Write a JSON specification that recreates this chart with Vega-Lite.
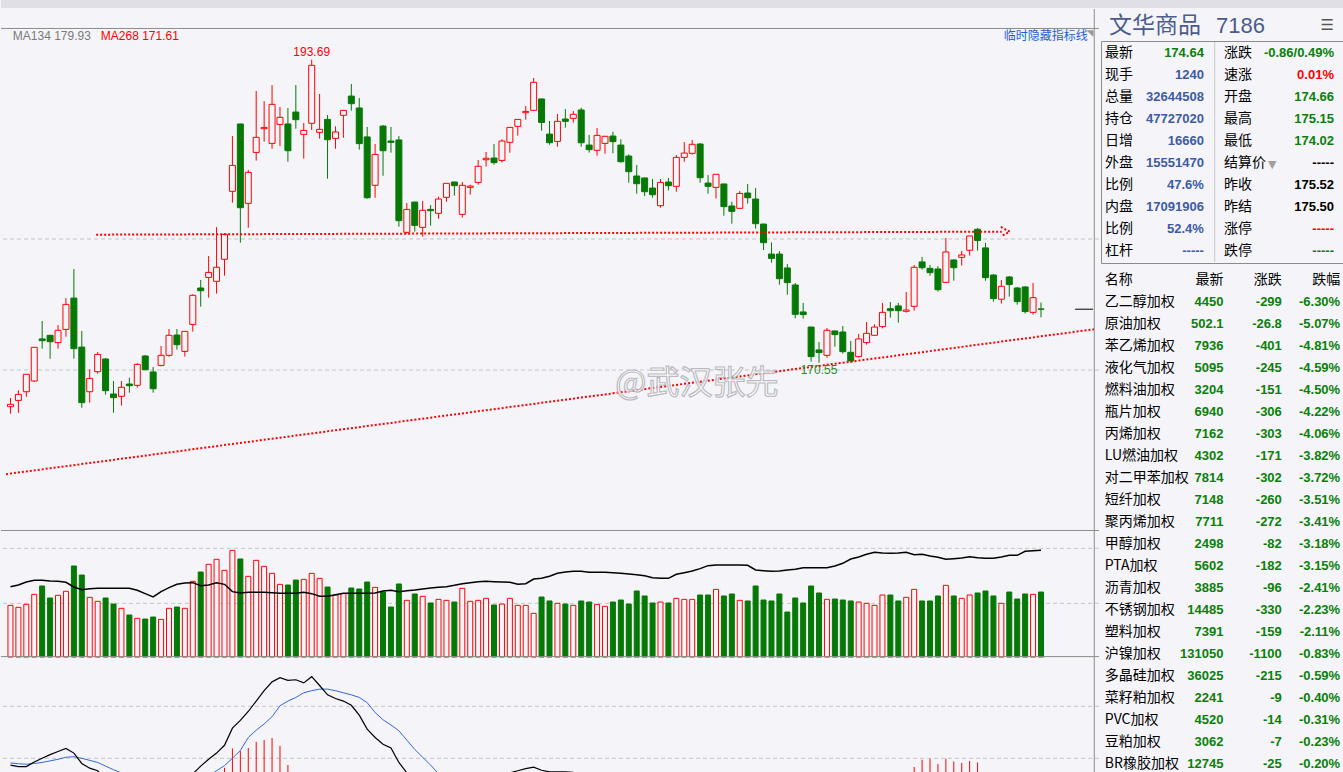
{
"$schema":"https://vega.github.io/schema/vega-lite/v6.json",
"background":"#f5f5f9",
"padding":0,
"spacing":0,
"config":{"view":{"stroke":null},"axis":{"disable":true},"legend":{"disable":true},"concat":{"spacing":0}},
"datasets":{
"k":[
{"i":1,"o":167.2,"h":167.86,"l":166.67,"c":167.38,"v":2594,"oi":3534,"dif":0.87,"dea":0.91,"m":-0.08},
{"i":2,"o":167.68,"h":168.45,"l":166.74,"c":168.14,"v":2495,"oi":3618,"dif":0.84,"dea":0.895,"m":-0.11},
{"i":3,"o":168.34,"h":169.7,"l":167.96,"c":169.67,"v":2648,"oi":3769,"dif":0.84,"dea":0.885,"m":-0.09},
{"i":4,"o":169.16,"h":171.75,"l":169.08,"c":171.73,"v":3148,"oi":3853,"dif":0.93,"dea":0.9,"m":0.06},
{"i":5,"o":172.37,"h":173.74,"l":171.63,"c":172.24,"v":3568,"oi":3853,"dif":1.0,"dea":0.92,"m":0.16},
{"i":6,"o":172.65,"h":172.67,"l":170.86,"c":172.16,"v":2965,"oi":3819,"dif":1.07,"dea":0.95,"m":0.24},
{"i":7,"o":172.09,"h":173.43,"l":171.63,"c":173.03,"v":3099,"oi":3802,"dif":1.13,"dea":0.98,"m":0.3},
{"i":8,"o":173.1,"h":175.49,"l":172.54,"c":175.01,"v":3301,"oi":3752,"dif":1.19,"dea":1.02,"m":0.34},
{"i":9,"o":175.49,"h":177.71,"l":170.86,"c":171.63,"v":4573,"oi":3518,"dif":1.1,"dea":1.03,"m":0.14},
{"i":10,"o":171.75,"h":172.98,"l":167.12,"c":167.51,"v":4120,"oi":3384,"dif":0.9,"dea":1.0,"m":-0.2},
{"i":11,"o":168.34,"h":170.05,"l":167.51,"c":169.36,"v":2998,"oi":3434,"dif":0.81,"dea":0.96,"m":-0.3},
{"i":12,"o":169.87,"h":171.37,"l":169.72,"c":171.19,"v":2798,"oi":3451,"dif":0.76,"dea":0.92,"m":-0.32},
{"i":13,"o":170.84,"h":170.91,"l":168.12,"c":168.42,"v":2965,"oi":3451,"dif":0.6,"dea":0.85,"m":-0.5},
{"i":14,"o":168.17,"h":169.16,"l":166.74,"c":167.89,"v":2662,"oi":3451,"dif":0.45,"dea":0.78,"m":-0.66},
{"i":15,"o":167.99,"h":169.16,"l":167.28,"c":168.68,"v":2446,"oi":3451,"dif":0.35,"dea":0.72,"m":-0.74},
{"i":16,"o":168.93,"h":169.41,"l":168.27,"c":168.8,"v":2110,"oi":3451,"dif":0.25,"dea":0.66,"m":-0.82},
{"i":17,"o":168.83,"h":170.53,"l":168.65,"c":170.43,"v":1944,"oi":3350,"dif":0.2,"dea":0.6,"m":-0.8},
{"i":18,"o":171.07,"h":171.14,"l":170.0,"c":170.02,"v":1908,"oi":3183,"dif":0.16,"dea":0.55,"m":-0.78},
{"i":19,"o":169.85,"h":170.23,"l":168.27,"c":168.57,"v":2009,"oi":3015,"dif":0.1,"dea":0.5,"m":-0.8},
{"i":20,"o":170.35,"h":171.83,"l":170.28,"c":171.12,"v":1892,"oi":3283,"dif":0.1,"dea":0.45,"m":-0.7},
{"i":21,"o":171.12,"h":173.13,"l":171.02,"c":172.65,"v":2446,"oi":3484,"dif":0.15,"dea":0.42,"m":-0.54},
{"i":22,"o":172.67,"h":173.13,"l":171.55,"c":171.93,"v":2512,"oi":3652,"dif":0.2,"dea":0.4,"m":-0.4},
{"i":23,"o":171.42,"h":172.97,"l":171.02,"c":172.95,"v":2446,"oi":3719,"dif":0.3,"dea":0.39,"m":-0.18},
{"i":24,"o":173.48,"h":175.78,"l":172.93,"c":175.7,"v":3803,"oi":3735,"dif":0.7,"dea":0.45,"m":0.5},
{"i":25,"o":176.26,"h":176.87,"l":174.83,"c":176.05,"v":4270,"oi":3585,"dif":0.85,"dea":0.55,"m":0.6},
{"i":26,"o":177.07,"h":178.7,"l":175.52,"c":177.45,"v":4657,"oi":3618,"dif":0.98,"dea":0.66,"m":0.64},
{"i":27,"o":176.77,"h":180.91,"l":175.83,"c":177.84,"v":4909,"oi":3735,"dif":1.1,"dea":0.76,"m":0.68},
{"i":28,"o":178.45,"h":180.43,"l":177.2,"c":180.35,"v":4354,"oi":3652,"dif":1.25,"dea":0.86,"m":0.82},
{"i":29,"o":183.64,"h":187.86,"l":182.77,"c":185.62,"v":5359,"oi":3283,"dif":1.58,"dea":1.0,"m":1.19},
{"i":30,"o":188.78,"h":188.8,"l":179.72,"c":182.39,"v":4925,"oi":3216,"dif":1.73,"dea":1.15,"m":1.14},
{"i":31,"o":182.72,"h":185.27,"l":180.86,"c":185.09,"v":4054,"oi":3250,"dif":1.9,"dea":1.4,"m":1.2},
{"i":32,"o":186.61,"h":191.3,"l":185.98,"c":187.76,"v":4857,"oi":3250,"dif":2.1,"dea":1.54,"m":1.32},
{"i":33,"o":188.42,"h":190.53,"l":187.43,"c":188.52,"v":4556,"oi":3250,"dif":2.3,"dea":1.66,"m":1.35},
{"i":34,"o":187.3,"h":191.75,"l":186.89,"c":190.28,"v":4204,"oi":3233,"dif":2.47,"dea":1.8,"m":1.39},
{"i":35,"o":188.75,"h":190.08,"l":187.1,"c":189.29,"v":3650,"oi":3199,"dif":2.55,"dea":2.01,"m":1.24},
{"i":36,"o":188.78,"h":190.0,"l":185.9,"c":186.74,"v":3617,"oi":3199,"dif":2.5,"dea":2.1,"m":0.87},
{"i":37,"o":189.69,"h":191.75,"l":188.42,"c":189.11,"v":3868,"oi":3199,"dif":2.51,"dea":2.17,"m":0.68},
{"i":38,"o":187.99,"h":188.85,"l":186.13,"c":188.29,"v":3901,"oi":3250,"dif":2.45,"dea":2.26,"m":0.38},
{"i":39,"o":188.83,"h":193.69,"l":188.32,"c":193.26,"v":4204,"oi":3183,"dif":2.57,"dea":2.3,"m":0.54},
{"i":40,"o":188.14,"h":191.07,"l":187.66,"c":188.37,"v":3953,"oi":3049,"dif":2.4,"dea":2.33,"m":0.14},
{"i":41,"o":189.13,"h":189.46,"l":184.6,"c":187.58,"v":3516,"oi":3049,"dif":2.22,"dea":2.33,"m":-0.22},
{"i":42,"o":187.68,"h":188.6,"l":186.89,"c":188.17,"v":3115,"oi":3132,"dif":2.15,"dea":2.3,"m":-0.3},
{"i":43,"o":189.44,"h":189.84,"l":187.73,"c":189.82,"v":3183,"oi":3199,"dif":2.1,"dea":2.26,"m":-0.32},
{"i":44,"o":190.91,"h":191.83,"l":189.8,"c":190.33,"v":3467,"oi":3199,"dif":2.02,"dea":2.22,"m":-0.4},
{"i":45,"o":190.0,"h":190.76,"l":186.82,"c":187.28,"v":3418,"oi":3199,"dif":1.83,"dea":2.17,"m":-0.68},
{"i":46,"o":187.79,"h":188.55,"l":183.08,"c":183.15,"v":3767,"oi":3199,"dif":1.56,"dea":2.07,"m":-1.02},
{"i":47,"o":184.1,"h":187.25,"l":183.15,"c":186.46,"v":3500,"oi":3216,"dif":1.4,"dea":1.88,"m":-0.96},
{"i":48,"o":188.62,"h":188.7,"l":184.83,"c":186.74,"v":3265,"oi":3317,"dif":1.27,"dea":1.74,"m":-0.94},
{"i":49,"o":187.48,"h":188.55,"l":186.59,"c":187.38,"v":2512,"oi":3350,"dif":1.2,"dea":1.64,"m":-0.88},
{"i":50,"o":187.56,"h":187.86,"l":180.94,"c":181.4,"v":3669,"oi":3283,"dif":0.92,"dea":1.53,"m":-1.22},
{"i":51,"o":180.51,"h":182.75,"l":180.41,"c":182.26,"v":2847,"oi":3333,"dif":0.72,"dea":1.35,"m":-1.26},
{"i":52,"o":182.82,"h":182.84,"l":180.56,"c":181.04,"v":3167,"oi":3367,"dif":0.58,"dea":1.17,"m":-1.18},
{"i":53,"o":180.89,"h":182.9,"l":180.18,"c":182.19,"v":3049,"oi":3417,"dif":0.5,"dea":1.02,"m":-1.04},
{"i":54,"o":182.26,"h":182.59,"l":181.02,"c":182.16,"v":2714,"oi":3467,"dif":0.45,"dea":0.87,"m":-0.84},
{"i":55,"o":181.96,"h":183.23,"l":181.55,"c":183.05,"v":2897,"oi":3501,"dif":0.45,"dea":0.7,"m":-0.5},
{"i":56,"o":183.18,"h":184.27,"l":182.85,"c":184.25,"v":2847,"oi":3534,"dif":0.48,"dea":0.62,"m":-0.28},
{"i":57,"o":184.35,"h":184.37,"l":183.31,"c":184.07,"v":2763,"oi":3601,"dif":0.5,"dea":0.58,"m":-0.16},
{"i":58,"o":181.88,"h":184.35,"l":181.63,"c":184.1,"v":3451,"oi":3685,"dif":0.52,"dea":0.56,"m":-0.08},
{"i":59,"o":183.94,"h":184.15,"l":183.38,"c":184.04,"v":2798,"oi":3735,"dif":0.55,"dea":0.55,"m":0.0},
{"i":60,"o":184.32,"h":186.03,"l":184.15,"c":185.55,"v":2847,"oi":3786,"dif":0.6,"dea":0.56,"m":0.08},
{"i":61,"o":186.05,"h":186.64,"l":185.52,"c":186.16,"v":2948,"oi":3802,"dif":0.64,"dea":0.57,"m":0.14},
{"i":62,"o":186.18,"h":187.25,"l":185.67,"c":185.83,"v":2613,"oi":3786,"dif":0.66,"dea":0.59,"m":0.14},
{"i":63,"o":186.0,"h":187.61,"l":185.83,"c":187.48,"v":2662,"oi":3769,"dif":0.7,"dea":0.61,"m":0.18},
{"i":64,"o":187.38,"h":188.54,"l":186.59,"c":188.52,"v":2948,"oi":3752,"dif":0.72,"dea":0.63,"m":0.18},
{"i":65,"o":188.6,"h":189.15,"l":187.89,"c":189.13,"v":2596,"oi":3652,"dif":0.76,"dea":0.65,"m":0.22},
{"i":66,"o":189.64,"h":190.15,"l":189.11,"c":189.74,"v":2596,"oi":3685,"dif":0.8,"dea":0.67,"m":0.26},
{"i":67,"o":189.82,"h":192.29,"l":189.8,"c":191.96,"v":2195,"oi":3920,"dif":0.83,"dea":0.69,"m":0.28},
{"i":68,"o":190.69,"h":190.71,"l":188.27,"c":188.9,"v":3014,"oi":3953,"dif":0.77,"dea":0.7,"m":0.14},
{"i":69,"o":188.01,"h":189.01,"l":187.2,"c":187.35,"v":2815,"oi":4054,"dif":0.74,"dea":0.7,"m":0.08},
{"i":70,"o":187.45,"h":189.54,"l":187.05,"c":188.98,"v":2697,"oi":4204,"dif":0.74,"dea":0.7,"m":0.08},
{"i":71,"o":189.16,"h":189.92,"l":188.5,"c":188.98,"v":2662,"oi":4271,"dif":0.74,"dea":0.7,"m":0.08},
{"i":72,"o":189.21,"h":189.77,"l":188.88,"c":189.52,"v":2596,"oi":4305,"dif":0.73,"dea":0.7,"m":0.06},
{"i":73,"o":189.85,"h":190.02,"l":187.05,"c":187.35,"v":2815,"oi":4305,"dif":0.62,"dea":0.69,"m":-0.14},
{"i":74,"o":187.17,"h":187.94,"l":186.59,"c":186.82,"v":2763,"oi":4255,"dif":0.5,"dea":0.66,"m":-0.32},
{"i":75,"o":186.77,"h":188.47,"l":186.36,"c":187.91,"v":2645,"oi":4255,"dif":0.42,"dea":0.63,"m":-0.42},
{"i":76,"o":187.3,"h":187.86,"l":186.51,"c":187.84,"v":2547,"oi":4255,"dif":0.36,"dea":0.58,"m":-0.44},
{"i":77,"o":187.86,"h":188.19,"l":186.54,"c":187.43,"v":2763,"oi":4238,"dif":0.3,"dea":0.53,"m":-0.46},
{"i":78,"o":187.17,"h":187.61,"l":185.83,"c":185.9,"v":2864,"oi":4204,"dif":0.2,"dea":0.47,"m":-0.54},
{"i":79,"o":186.33,"h":186.46,"l":184.3,"c":185.14,"v":2662,"oi":4171,"dif":0.05,"dea":0.39,"m":-0.68},
{"i":80,"o":184.81,"h":185.65,"l":183.46,"c":184.22,"v":3317,"oi":4137,"dif":-0.15,"dea":0.28,"m":-0.86},
{"i":81,"o":184.66,"h":184.68,"l":183.28,"c":183.61,"v":3066,"oi":4087,"dif":-0.35,"dea":0.15,"m":-1.0},
{"i":82,"o":183.89,"h":184.58,"l":183.15,"c":183.38,"v":2714,"oi":3987,"dif":-0.5,"dea":0.02,"m":-1.04},
{"i":83,"o":182.54,"h":184.58,"l":182.39,"c":184.32,"v":2763,"oi":3953,"dif":-0.55,"dea":-0.1,"m":-0.9},
{"i":84,"o":184.35,"h":184.66,"l":183.71,"c":184.07,"v":2714,"oi":3953,"dif":-0.6,"dea":-0.2,"m":-0.8},
{"i":85,"o":184.02,"h":186.41,"l":183.61,"c":186.23,"v":2948,"oi":4154,"dif":-0.5,"dea":-0.26,"m":-0.48},
{"i":86,"o":186.23,"h":187.4,"l":185.9,"c":186.56,"v":2897,"oi":4238,"dif":-0.4,"dea":-0.29,"m":-0.22},
{"i":87,"o":186.54,"h":187.56,"l":186.44,"c":187.23,"v":2897,"oi":4322,"dif":-0.3,"dea":-0.29,"m":-0.02},
{"i":88,"o":187.25,"h":187.33,"l":184.3,"c":184.68,"v":3115,"oi":4439,"dif":-0.4,"dea":-0.31,"m":-0.18},
{"i":89,"o":184.27,"h":184.88,"l":183.46,"c":184.02,"v":3115,"oi":4590,"dif":-0.5,"dea":-0.35,"m":-0.3},
{"i":90,"o":183.94,"h":184.96,"l":183.08,"c":184.94,"v":3399,"oi":4623,"dif":-0.55,"dea":-0.39,"m":-0.32},
{"i":91,"o":184.2,"h":184.22,"l":181.78,"c":182.47,"v":3066,"oi":4623,"dif":-0.7,"dea":-0.45,"m":-0.5},
{"i":92,"o":182.52,"h":182.85,"l":181.17,"c":182.11,"v":3167,"oi":4623,"dif":-0.85,"dea":-0.53,"m":-0.64},
{"i":93,"o":182.34,"h":183.66,"l":182.32,"c":183.48,"v":2847,"oi":4623,"dif":-0.85,"dea":-0.6,"m":-0.5},
{"i":94,"o":183.51,"h":184.2,"l":182.7,"c":183.15,"v":2815,"oi":4606,"dif":-0.9,"dea":-0.66,"m":-0.48},
{"i":95,"o":183.05,"h":183.89,"l":180.79,"c":181.17,"v":3568,"oi":4372,"dif":-1.05,"dea":-0.74,"m":-0.62},
{"i":96,"o":181.14,"h":181.16,"l":179.16,"c":179.72,"v":2864,"oi":4338,"dif":-1.25,"dea":-0.84,"m":-0.82},
{"i":97,"o":178.85,"h":179.74,"l":178.19,"c":178.52,"v":2815,"oi":4305,"dif":-1.5,"dea":-0.97,"m":-1.06},
{"i":98,"o":178.85,"h":179.08,"l":176.51,"c":176.97,"v":3167,"oi":4322,"dif":-1.75,"dea":-1.12,"m":-1.26},
{"i":99,"o":177.79,"h":178.09,"l":175.75,"c":176.67,"v":2260,"oi":4372,"dif":-2.0,"dea":-1.3,"m":-1.4},
{"i":100,"o":176.49,"h":176.64,"l":173.94,"c":174.25,"v":2965,"oi":4405,"dif":-2.3,"dea":-1.5,"m":-1.6},
{"i":101,"o":174.43,"h":175.12,"l":173.92,"c":174.23,"v":2714,"oi":4489,"dif":-2.5,"dea":-1.7,"m":-1.6},
{"i":102,"o":173.28,"h":173.3,"l":170.64,"c":171.02,"v":3568,"oi":4489,"dif":-2.8,"dea":-1.92,"m":-1.76},
{"i":103,"o":171.53,"h":172.14,"l":170.55,"c":171.33,"v":3216,"oi":4489,"dif":-3.0,"dea":-2.14,"m":-1.72},
{"i":104,"o":171.12,"h":173.21,"l":170.94,"c":173.03,"v":2897,"oi":4489,"dif":-3.0,"dea":-2.31,"m":-1.38},
{"i":105,"o":172.98,"h":173.0,"l":171.78,"c":172.7,"v":2913,"oi":4573,"dif":-3.0,"dea":-2.45,"m":-1.1},
{"i":106,"o":172.9,"h":173.36,"l":171.25,"c":171.4,"v":2864,"oi":4707,"dif":-3.05,"dea":-2.57,"m":-0.96},
{"i":107,"o":171.35,"h":172.22,"l":170.56,"c":170.69,"v":2815,"oi":4925,"dif":-3.1,"dea":-2.68,"m":-0.84},
{"i":108,"o":171.02,"h":172.75,"l":170.94,"c":172.37,"v":2763,"oi":5025,"dif":-3.0,"dea":-2.74,"m":-0.52},
{"i":109,"o":172.09,"h":173.67,"l":171.94,"c":172.8,"v":2697,"oi":5159,"dif":-2.85,"dea":-2.76,"m":-0.18},
{"i":110,"o":172.65,"h":173.49,"l":172.63,"c":173.28,"v":2596,"oi":5260,"dif":-2.7,"dea":-2.75,"m":0.1},
{"i":111,"o":173.31,"h":175.12,"l":173.18,"c":174.4,"v":3115,"oi":5226,"dif":-2.5,"dea":-2.7,"m":0.4},
{"i":112,"o":174.68,"h":175.19,"l":174.0,"c":174.53,"v":3115,"oi":5209,"dif":-2.35,"dea":-2.63,"m":0.56},
{"i":113,"o":174.89,"h":175.12,"l":173.62,"c":174.53,"v":2815,"oi":5226,"dif":-2.25,"dea":-2.56,"m":0.62},
{"i":114,"o":174.48,"h":175.96,"l":174.38,"c":174.58,"v":2998,"oi":5260,"dif":-2.14,"dea":-2.47,"m":0.66},
{"i":115,"o":174.86,"h":178.02,"l":174.53,"c":177.84,"v":3399,"oi":5142,"dif":-1.84,"dea":-2.25,"m":0.83},
{"i":116,"o":178.25,"h":178.63,"l":177.66,"c":177.81,"v":2815,"oi":5159,"dif":-1.55,"dea":-2.03,"m":0.97},
{"i":117,"o":177.76,"h":178.02,"l":177.2,"c":177.43,"v":2815,"oi":5075,"dif":-1.39,"dea":-1.88,"m":0.99},
{"i":118,"o":177.71,"h":177.92,"l":175.98,"c":176.13,"v":3066,"oi":5008,"dif":-1.3,"dea":-1.74,"m":0.89},
{"i":119,"o":176.69,"h":180.08,"l":176.67,"c":179.01,"v":3601,"oi":4908,"dif":-1.06,"dea":-1.55,"m":0.99},
{"i":120,"o":178.4,"h":178.42,"l":176.82,"c":177.81,"v":3066,"oi":4941,"dif":-0.95,"dea":-1.42,"m":0.94},
{"i":121,"o":178.6,"h":179.09,"l":177.97,"c":178.78,"v":2948,"oi":4975,"dif":-0.8,"dea":-1.26,"m":0.91},
{"i":122,"o":179.14,"h":180.25,"l":178.73,"c":180.23,"v":3115,"oi":5042,"dif":-0.62,"dea":-1.1,"m":0.95},
{"i":123,"o":180.74,"h":180.84,"l":179.11,"c":179.88,"v":3216,"oi":4992,"dif":-0.52,"dea":-0.98,"m":0.92},
{"i":124,"o":179.32,"h":179.7,"l":176.82,"c":177.05,"v":3317,"oi":4958,"dif":-0.52,"dea":-0.88,"m":0.7},
{"i":125,"o":177.25,"h":177.31,"l":175.22,"c":175.45,"v":3066,"oi":4958,"dif":-0.6,"dea":-0.83,"m":0.46},
{"i":126,"o":175.4,"h":176.87,"l":175.07,"c":176.39,"v":2697,"oi":5025,"dif":-0.62,"dea":-0.78,"m":0.32},
{"i":127,"o":177.1,"h":177.18,"l":175.6,"c":176.52,"v":3265,"oi":5109,"dif":-0.62,"dea":-0.75,"m":0.26},
{"i":128,"o":176.26,"h":176.34,"l":174.99,"c":175.22,"v":2913,"oi":5109,"dif":-0.68,"dea":-0.73,"m":0.1},
{"i":129,"o":176.34,"h":176.39,"l":174.3,"c":174.46,"v":3167,"oi":5310,"dif":-0.78,"dea":-0.74,"m":-0.08},
{"i":130,"o":174.4,"h":176.64,"l":174.23,"c":175.52,"v":3148,"oi":5343,"dif":-0.8,"dea":-0.75,"m":-0.1},
{"i":131,"o":174.66,"h":175.15,"l":174.02,"c":174.64,"v":3264,"oi":5360,"dif":-0.85,"dea":-0.77,"m":-0.16}
],
"info":[
{"行":1,"项目":"最新","数值":"174.64","色1":"跌","项目2":"涨跌","数值2":"-0.86/0.49%","色2":"跌"},
{"行":2,"项目":"现手","数值":"1240","色1":"量","项目2":"速涨","数值2":"0.01%","色2":"涨"},
{"行":3,"项目":"总量","数值":"32644508","色1":"量","项目2":"开盘","数值2":"174.66","色2":"跌"},
{"行":4,"项目":"持仓","数值":"47727020","色1":"量","项目2":"最高","数值2":"175.15","色2":"跌"},
{"行":5,"项目":"日增","数值":"16660","色1":"量","项目2":"最低","数值2":"174.02","色2":"跌"},
{"行":6,"项目":"外盘","数值":"15551470","色1":"量","项目2":"结算价","数值2":"-----","色2":"平"},
{"行":7,"项目":"比例","数值":"47.6%","色1":"量","项目2":"昨收","数值2":"175.52","色2":"平"},
{"行":8,"项目":"内盘","数值":"17091906","色1":"量","项目2":"昨结","数值2":"175.50","色2":"平"},
{"行":9,"项目":"比例","数值":"52.4%","色1":"量","项目2":"涨停","数值2":"-----","色2":"涨"},
{"行":10,"项目":"杠杆","数值":"-----","色1":"量","项目2":"跌停","数值2":"-----","色2":"跌"}
],
"tbl":[
{"名称":"乙二醇加权","最新":4450,"涨跌":-299,"跌幅":"-6.30%"},
{"名称":"原油加权","最新":502.1,"涨跌":-26.8,"跌幅":"-5.07%"},
{"名称":"苯乙烯加权","最新":7936,"涨跌":-401,"跌幅":"-4.81%"},
{"名称":"液化气加权","最新":5095,"涨跌":-245,"跌幅":"-4.59%"},
{"名称":"燃料油加权","最新":3204,"涨跌":-151,"跌幅":"-4.50%"},
{"名称":"瓶片加权","最新":6940,"涨跌":-306,"跌幅":"-4.22%"},
{"名称":"丙烯加权","最新":7162,"涨跌":-303,"跌幅":"-4.06%"},
{"名称":"LU燃油加权","最新":4302,"涨跌":-171,"跌幅":"-3.82%"},
{"名称":"对二甲苯加权","最新":7814,"涨跌":-302,"跌幅":"-3.72%"},
{"名称":"短纤加权","最新":7148,"涨跌":-260,"跌幅":"-3.51%"},
{"名称":"聚丙烯加权","最新":7711,"涨跌":-272,"跌幅":"-3.41%"},
{"名称":"甲醇加权","最新":2498,"涨跌":-82,"跌幅":"-3.18%"},
{"名称":"PTA加权","最新":5602,"涨跌":-182,"跌幅":"-3.15%"},
{"名称":"沥青加权","最新":3885,"涨跌":-96,"跌幅":"-2.41%"},
{"名称":"不锈钢加权","最新":14485,"涨跌":-330,"跌幅":"-2.23%"},
{"名称":"塑料加权","最新":7391,"涨跌":-159,"跌幅":"-2.11%"},
{"名称":"沪镍加权","最新":131050,"涨跌":-1100,"跌幅":"-0.83%"},
{"名称":"多晶硅加权","最新":36025,"涨跌":-215,"跌幅":"-0.59%"},
{"名称":"菜籽粕加权","最新":2241,"涨跌":-9,"跌幅":"-0.40%"},
{"名称":"PVC加权","最新":4520,"涨跌":-14,"跌幅":"-0.31%"},
{"名称":"豆粕加权","最新":3062,"涨跌":-7,"跌幅":"-0.23%"},
{"名称":"BR橡胶加权","最新":12745,"涨跌":-25,"跌幅":"-0.20%"}
]
},
"vconcat":[
{"width":1343,"height":8,"view":{"fill":"#dfdfe5","stroke":null},"data":{"values":[{"t":""}]},"mark":{"type":"text","fontSize":1},"encoding":{"text":{"field":"t","type":"nominal"}}},
{"hconcat":[
{"vconcat":[
{"width":1098,"height":522,"data":{"name":"k"},"layer":[
{"data":{"values":[{"p":170},{"p":180}]},"mark":{"type":"rule","stroke":"#c4c4c8","strokeDash":[4,3],"strokeWidth":1},"encoding":{"y":{"field":"p","type":"quantitative","scale":{"domain":[157.71,197.557],"nice":false,"zero":false}}}},
{"data":{"values":[{"p":196.07},{"p":157.75}]},"mark":{"type":"rule","stroke":"#8c8c8c","strokeWidth":1},"encoding":{"y":{"field":"p","type":"quantitative","scale":{"domain":[157.71,197.557],"nice":false,"zero":false}}}},
{"data":{"values":[{"x":137.72}]},"mark":{"type":"rule","stroke":"#8c8c8c","strokeWidth":1},"encoding":{"x":{"field":"x","type":"quantitative","scale":{"domain":[0.4375,137.6875],"nice":false,"zero":false}}}},
{"mark":{"type":"rule","strokeWidth":1},"encoding":{"x":{"field":"i","type":"quantitative","scale":{"domain":[0.4375,137.6875],"nice":false,"zero":false}},"y":{"field":"l","type":"quantitative","scale":{"domain":[157.71,197.557],"nice":false,"zero":false}},"y2":{"field":"h"},"color":{"condition":{"test":"datum.c >= datum.o","value":"#ff0000"},"value":"#067806"}}},
{"mark":{"type":"bar","width":6,"strokeWidth":1,"orient":"vertical"},"encoding":{"x":{"field":"i","type":"quantitative","scale":{"domain":[0.4375,137.6875],"nice":false,"zero":false}},"y":{"field":"o","type":"quantitative","scale":{"domain":[157.71,197.557],"nice":false,"zero":false}},"y2":{"field":"c"},"fill":{"condition":{"test":"datum.c >= datum.o","value":"#f5f5f9"},"value":"#067806"},"stroke":{"condition":{"test":"datum.c >= datum.o","value":"#ff0000"},"value":"#067806"}}},
{"data":{"values":[{"i":11.81,"p":180.33},{"i":126.06,"p":180.56}]},"mark":{"type":"line","stroke":"#ff0000","strokeWidth":2,"strokeDash":[2,2],"clip":true},"encoding":{"x":{"field":"i","type":"quantitative","scale":{"domain":[0.4375,137.6875],"nice":false,"zero":false}},"y":{"field":"p","type":"quantitative","scale":{"domain":[157.71,197.557],"nice":false,"zero":false}}}},
{"data":{"values":[{"k":1,"i":125.94,"p":180.92},{"k":2,"i":127.06,"p":180.56},{"k":3,"i":125.94,"p":180.2}]},"mark":{"type":"line","stroke":"#ff0000","strokeWidth":2,"strokeDash":[2,2],"clip":true},"encoding":{"x":{"field":"i","type":"quantitative","scale":{"domain":[0.4375,137.6875],"nice":false,"zero":false}},"y":{"field":"p","type":"quantitative","scale":{"domain":[157.71,197.557],"nice":false,"zero":false}},"order":{"field":"k","type":"quantitative"}}},
{"data":{"values":[{"i":0.4375,"p":162.05},{"i":137.6875,"p":173.11}]},"mark":{"type":"line","stroke":"#ff0000","strokeWidth":2,"strokeDash":[2,2],"clip":true},"encoding":{"x":{"field":"i","type":"quantitative","scale":{"domain":[0.4375,137.6875],"nice":false,"zero":false}},"y":{"field":"p","type":"quantitative","scale":{"domain":[157.71,197.557],"nice":false,"zero":false}}}},
{"data":{"values":[{"i":135.31,"p":174.64},{"i":137.56,"p":174.64}]},"mark":{"type":"line","stroke":"#000000","strokeWidth":1},"encoding":{"x":{"field":"i","type":"quantitative","scale":{"domain":[0.4375,137.6875],"nice":false,"zero":false}},"y":{"field":"p","type":"quantitative","scale":{"domain":[157.71,197.557],"nice":false,"zero":false}}}},
{"transform":[{"filter":"datum.i == 39"}],"mark":{"type":"text","color":"#ff0000","fontSize":12,"font":"Liberation Sans","baseline":"bottom","dy":-1},"encoding":{"x":{"field":"i","type":"quantitative","scale":{"domain":[0.4375,137.6875],"nice":false,"zero":false}},"y":{"field":"h","type":"quantitative","scale":{"domain":[157.71,197.557],"nice":false,"zero":false}},"text":{"field":"h","type":"quantitative","format":".2f"}}},
{"transform":[{"filter":"datum.i == 103"}],"mark":{"type":"text","color":"#2a8a2a","fontSize":12,"font":"Liberation Sans","baseline":"top","dy":2},"encoding":{"x":{"field":"i","type":"quantitative","scale":{"domain":[0.4375,137.6875],"nice":false,"zero":false}},"y":{"field":"l","type":"quantitative","scale":{"domain":[157.71,197.557],"nice":false,"zero":false}},"text":{"field":"l","type":"quantitative","format":".2f"}}},
{"data":{"values":[{"t":"MA134 179.93"}]},"mark":{"type":"text","align":"left","baseline":"middle","fontSize":12,"font":"Liberation Sans","color":"#7a7a7a"},"encoding":{"x":{"datum":1.3,"type":"quantitative","scale":{"domain":[0.4375,137.6875],"nice":false,"zero":false}},"y":{"datum":195.5,"type":"quantitative","scale":{"domain":[157.71,197.557],"nice":false,"zero":false}},"text":{"field":"t","type":"nominal"}}},
{"data":{"values":[{"t":"MA268 171.61"}]},"mark":{"type":"text","align":"left","baseline":"middle","fontSize":12,"font":"Liberation Sans","color":"#ff0000"},"encoding":{"x":{"datum":12.4,"type":"quantitative","scale":{"domain":[0.4375,137.6875],"nice":false,"zero":false}},"y":{"datum":195.5,"type":"quantitative","scale":{"domain":[157.71,197.557],"nice":false,"zero":false}},"text":{"field":"t","type":"nominal"}}},
{"data":{"values":[{"t":"临时隐藏指标线"}]},"mark":{"type":"text","align":"right","baseline":"middle","fontSize":12,"font":"Noto Sans CJK SC","color":"#1f5fd0"},"encoding":{"x":{"datum":136.9,"type":"quantitative","scale":{"domain":[0.4375,137.6875],"nice":false,"zero":false}},"y":{"datum":195.5,"type":"quantitative","scale":{"domain":[157.71,197.557],"nice":false,"zero":false}},"text":{"field":"t","type":"nominal"}}},
{"data":{"values":[{"t":"◥"}]},"mark":{"type":"text","align":"right","baseline":"top","fontSize":9,"font":"DejaVu Sans","color":"#999999"},"encoding":{"x":{"datum":137.6,"type":"quantitative","scale":{"domain":[0.4375,137.6875],"nice":false,"zero":false}},"y":{"datum":196.05,"type":"quantitative","scale":{"domain":[157.71,197.557],"nice":false,"zero":false}},"text":{"field":"t","type":"nominal"}}},
{"data":{"values":[{"t":"@武汉张先"}]},"mark":{"type":"text","align":"left","baseline":"middle","fontSize":33,"font":"Noto Sans CJK SC","fill":"#ffffff","stroke":"#b5b5bb","strokeWidth":1.2,"opacity":0.9},"encoding":{"x":{"datum":77.3,"type":"quantitative","scale":{"domain":[0.4375,137.6875],"nice":false,"zero":false}},"y":{"datum":168.93,"type":"quantitative","scale":{"domain":[157.71,197.557],"nice":false,"zero":false}},"text":{"field":"t","type":"nominal"}}}
]},
{"width":1098,"height":126,"data":{"name":"k"},"layer":[
{"data":{"values":[{"q":2696},{"q":5460}]},"mark":{"type":"rule","stroke":"#c4c4c8","strokeDash":[4,3],"strokeWidth":1},"encoding":{"y":{"field":"q","type":"quantitative","scale":{"domain":[0.01,6331],"nice":false,"zero":false}}}},
{"mark":{"type":"bar","width":5,"strokeWidth":1,"orient":"vertical"},"encoding":{"x":{"field":"i","type":"quantitative","scale":{"domain":[0.4375,137.6875],"nice":false,"zero":false}},"y":{"field":"v","type":"quantitative","stack":null,"scale":{"domain":[0.01,6331],"nice":false,"zero":false}},"fill":{"condition":{"test":"datum.c >= datum.o","value":"#f5f5f9"},"value":"#067806"},"stroke":{"condition":{"test":"datum.c >= datum.o","value":"#ff0000"},"value":"#067806"}}},
{"mark":{"type":"line","stroke":"#000000","strokeWidth":1.5},"encoding":{"x":{"field":"i","type":"quantitative","scale":{"domain":[0.4375,137.6875],"nice":false,"zero":false}},"y":{"field":"oi","type":"quantitative","scale":{"domain":[0.01,6331],"nice":false,"zero":false}}}},
{"data":{"values":[{"q":20}]},"mark":{"type":"rule","stroke":"#8c8c8c","strokeWidth":1},"encoding":{"y":{"field":"q","type":"quantitative","scale":{"domain":[0.01,6331],"nice":false,"zero":false}}}},
{"data":{"values":[{"x":137.72}]},"mark":{"type":"rule","stroke":"#8c8c8c","strokeWidth":1},"encoding":{"x":{"field":"x","type":"quantitative","scale":{"domain":[0.4375,137.6875],"nice":false,"zero":false}}}}
]},
{"width":1098,"height":116,"data":{"name":"k"},"layer":[
{"data":{"values":[{"q":1},{"q":2}]},"mark":{"type":"rule","stroke":"#c4c4c8","strokeDash":[4,3],"strokeWidth":1},"encoding":{"y":{"field":"q","type":"quantitative","scale":{"domain":[0.717,2.948],"nice":false,"zero":false}}}},
{"mark":{"type":"bar","width":1,"orient":"vertical","clip":true},"encoding":{"x":{"field":"i","type":"quantitative","scale":{"domain":[0.4375,137.6875],"nice":false,"zero":false}},"y":{"field":"m","type":"quantitative","stack":null,"scale":{"domain":[0.717,2.948],"nice":false,"zero":false}},"color":{"condition":{"test":"datum.m > 0","value":"#ff0000"},"value":"#067806"}}},
{"mark":{"type":"line","stroke":"#3366dd","strokeWidth":1,"clip":true},"encoding":{"x":{"field":"i","type":"quantitative","scale":{"domain":[0.4375,137.6875],"nice":false,"zero":false}},"y":{"field":"dea","type":"quantitative","scale":{"domain":[0.717,2.948],"nice":false,"zero":false}}}},
{"mark":{"type":"line","stroke":"#000000","strokeWidth":1.2,"clip":true},"encoding":{"x":{"field":"i","type":"quantitative","scale":{"domain":[0.4375,137.6875],"nice":false,"zero":false}},"y":{"field":"dif","type":"quantitative","scale":{"domain":[0.717,2.948],"nice":false,"zero":false}}}},
{"data":{"values":[{"x":137.72}]},"mark":{"type":"rule","stroke":"#8c8c8c","strokeWidth":1},"encoding":{"x":{"field":"x","type":"quantitative","scale":{"domain":[0.4375,137.6875],"nice":false,"zero":false}}}}
]}
],"spacing":0,"bounds":"flush"},
{"vconcat":[
{"width":245,"height":32,"data":{"values":[{"名称":"文华商品","代码":"7186","图标":"☰"}]},"layer":[
{"transform":[{"fold":["名称"],"as":["列","文"]}],"mark":{"type":"text","align":"left","baseline":"middle","fontSize":23,"font":"Noto Sans CJK SC","color":"#4b5b8c","dy":1},"encoding":{"x":{"field":"列","type":"nominal","bandPosition":0.098,"scale":{"type":"band","domain":["名称","代码","图标"],"paddingInner":0,"paddingOuter":0}},"text":{"field":"文","type":"nominal"}}},
{"transform":[{"fold":["代码"],"as":["列","文"]}],"mark":{"type":"text","align":"left","baseline":"middle","fontSize":22,"font":"Liberation Sans","color":"#4b5b8c","dy":1},"encoding":{"x":{"field":"列","type":"nominal","bandPosition":0.408,"scale":{"type":"band","domain":["名称","代码","图标"],"paddingInner":0,"paddingOuter":0}},"text":{"field":"文","type":"nominal"}}},
{"transform":[{"fold":["图标"],"as":["列","文"]}],"mark":{"type":"text","align":"right","baseline":"middle","fontSize":15,"font":"DejaVu Sans","color":"#555555"},"encoding":{"x":{"field":"列","type":"nominal","bandPosition":0.853,"scale":{"type":"band","domain":["名称","代码","图标"],"paddingInner":0,"paddingOuter":0}},"text":{"field":"文","type":"nominal"}}}
]},
{"width":245,"height":222,"view":{"stroke":"#8c8c8c","strokeWidth":1},"data":{"name":"info"},"layer":[
{"transform":[{"fold":["项目"],"as":["列","文"]}],"mark":{"type":"text","align":"left","baseline":"middle","fontSize":14,"font":"Noto Sans CJK SC","color":"#000000"},"encoding":{"x":{"field":"列","type":"nominal","bandPosition":0.065,"scale":{"type":"band","domain":["项目","数值","项目2","数值2"],"paddingInner":0,"paddingOuter":0}},"y":{"field":"行","type":"ordinal","bandPosition":0.5,"scale":{"type":"band","domain":[1,2,3,4,5,6,7,8,9,10],"range":[1,221],"paddingInner":0,"paddingOuter":0}},"text":{"field":"文","type":"nominal"}}},
{"transform":[{"fold":["数值"],"as":["列","文"]}],"mark":{"type":"text","align":"right","baseline":"middle","fontSize":13,"font":"Liberation Sans","fontWeight":"bold"},"encoding":{"x":{"field":"列","type":"nominal","bandPosition":0.68,"scale":{"type":"band","domain":["项目","数值","项目2","数值2"],"paddingInner":0,"paddingOuter":0}},"y":{"field":"行","type":"ordinal","bandPosition":0.5,"scale":{"type":"band","domain":[1,2,3,4,5,6,7,8,9,10],"range":[1,221],"paddingInner":0,"paddingOuter":0}},"text":{"field":"文","type":"nominal"},"color":{"field":"色1","type":"nominal","scale":{"domain":["涨","跌","平","量"],"range":["#ff0000","#0a800a","#000000","#3d5aa5"]}}}},
{"transform":[{"fold":["项目2"],"as":["列","文"]}],"mark":{"type":"text","align":"left","baseline":"middle","fontSize":14,"font":"Noto Sans CJK SC","color":"#000000"},"encoding":{"x":{"field":"列","type":"nominal","bandPosition":0.01,"scale":{"type":"band","domain":["项目","数值","项目2","数值2"],"paddingInner":0,"paddingOuter":0}},"y":{"field":"行","type":"ordinal","bandPosition":0.5,"scale":{"type":"band","domain":[1,2,3,4,5,6,7,8,9,10],"range":[1,221],"paddingInner":0,"paddingOuter":0}},"text":{"field":"文","type":"nominal"}}},
{"transform":[{"filter":"datum['项目2'] == '结算价'"},{"fold":["项目2"],"as":["列","文"]}],"mark":{"type":"text","align":"left","baseline":"middle","fontSize":11,"font":"DejaVu Sans","color":"#a0a0a0","dx":44,"dy":2},"encoding":{"x":{"field":"列","type":"nominal","bandPosition":0.01,"scale":{"type":"band","domain":["项目","数值","项目2","数值2"],"paddingInner":0,"paddingOuter":0}},"y":{"field":"行","type":"ordinal","bandPosition":0.5,"scale":{"type":"band","domain":[1,2,3,4,5,6,7,8,9,10],"range":[1,221],"paddingInner":0,"paddingOuter":0}},"text":{"value":"▼"}}},
{"transform":[{"fold":["数值2"],"as":["列","文"]}],"mark":{"type":"text","align":"right","baseline":"middle","fontSize":13,"font":"Liberation Sans","fontWeight":"bold"},"encoding":{"x":{"field":"列","type":"nominal","bandPosition":0.804,"scale":{"type":"band","domain":["项目","数值","项目2","数值2"],"paddingInner":0,"paddingOuter":0}},"y":{"field":"行","type":"ordinal","bandPosition":0.5,"scale":{"type":"band","domain":[1,2,3,4,5,6,7,8,9,10],"range":[1,221],"paddingInner":0,"paddingOuter":0}},"text":{"field":"文","type":"nominal"},"color":{"field":"色2","type":"nominal","scale":{"domain":["涨","跌","平","量"],"range":["#ff0000","#0a800a","#000000","#3d5aa5"]}}}},
{"transform":[{"fold":["数值"],"as":["列","文"]}],"mark":{"type":"tick","orient":"vertical","thickness":1,"size":22,"color":"#b4b4b8"},"encoding":{"x":{"field":"列","type":"nominal","bandPosition":0.856,"scale":{"type":"band","domain":["项目","数值","项目2","数值2"],"paddingInner":0,"paddingOuter":0}},"y":{"field":"行","type":"ordinal","bandPosition":0.5,"scale":{"type":"band","domain":[1,2,3,4,5,6,7,8,9,10],"range":[1,221],"paddingInner":0,"paddingOuter":0}}}}
]},
{"width":245,"height":510,"data":{"name":"tbl"},"layer":[
{"data":{"values":[{"列":"名称","行":"名称"}]},"mark":{"type":"text","align":"left","baseline":"middle","fontSize":14,"font":"Noto Sans CJK SC","color":"#000000","dx":-2},"encoding":{"x":{"field":"列","type":"nominal","bandPosition":0,"scale":{"type":"band","domain":["名称","最新","涨跌","跌幅"],"paddingInner":0,"paddingOuter":0.1}},"y":{"field":"行","type":"nominal","bandPosition":0.5,"scale":{"type":"band","domain":["名称","乙二醇加权","原油加权","苯乙烯加权","液化气加权","燃料油加权","瓶片加权","丙烯加权","LU燃油加权","对二甲苯加权","短纤加权","聚丙烯加权","甲醇加权","PTA加权","沥青加权","不锈钢加权","塑料加权","沪镍加权","多晶硅加权","菜籽粕加权","PVC加权","豆粕加权","BR橡胶加权"],"range":[6,512],"paddingInner":0,"paddingOuter":0}},"text":{"field":"列","type":"nominal"}}},
{"data":{"values":[{"列":"最新","行":"名称"},{"列":"涨跌","行":"名称"},{"列":"跌幅","行":"名称"}]},"mark":{"type":"text","align":"right","baseline":"middle","fontSize":14,"font":"Noto Sans CJK SC","color":"#000000"},"encoding":{"x":{"field":"列","type":"nominal","bandPosition":1,"scale":{"type":"band","domain":["名称","最新","涨跌","跌幅"],"paddingInner":0,"paddingOuter":0.1}},"y":{"field":"行","type":"nominal","bandPosition":0.5,"scale":{"type":"band","domain":["名称","乙二醇加权","原油加权","苯乙烯加权","液化气加权","燃料油加权","瓶片加权","丙烯加权","LU燃油加权","对二甲苯加权","短纤加权","聚丙烯加权","甲醇加权","PTA加权","沥青加权","不锈钢加权","塑料加权","沪镍加权","多晶硅加权","菜籽粕加权","PVC加权","豆粕加权","BR橡胶加权"],"range":[6,512],"paddingInner":0,"paddingOuter":0}},"text":{"field":"列","type":"nominal"}}},
{"transform":[{"fold":["名称"],"as":["列","文"]}],"mark":{"type":"text","align":"left","baseline":"middle","fontSize":14,"font":"Noto Sans CJK SC","color":"#000000","dx":-2},"encoding":{"x":{"field":"列","type":"nominal","bandPosition":0,"scale":{"type":"band","domain":["名称","最新","涨跌","跌幅"],"paddingInner":0,"paddingOuter":0.1}},"y":{"field":"名称","type":"nominal","bandPosition":0.5,"scale":{"type":"band","domain":["名称","乙二醇加权","原油加权","苯乙烯加权","液化气加权","燃料油加权","瓶片加权","丙烯加权","LU燃油加权","对二甲苯加权","短纤加权","聚丙烯加权","甲醇加权","PTA加权","沥青加权","不锈钢加权","塑料加权","沪镍加权","多晶硅加权","菜籽粕加权","PVC加权","豆粕加权","BR橡胶加权"],"range":[6,512],"paddingInner":0,"paddingOuter":0}},"text":{"field":"文","type":"nominal"}}},
{"transform":[{"fold":["最新","涨跌","跌幅"],"as":["列","文"]}],"mark":{"type":"text","align":"right","baseline":"middle","fontSize":13,"font":"Liberation Sans","fontWeight":"bold","color":"#0a800a"},"encoding":{"x":{"field":"列","type":"nominal","bandPosition":1,"scale":{"type":"band","domain":["名称","最新","涨跌","跌幅"],"paddingInner":0,"paddingOuter":0.1}},"y":{"field":"名称","type":"nominal","bandPosition":0.5,"scale":{"type":"band","domain":["名称","乙二醇加权","原油加权","苯乙烯加权","液化气加权","燃料油加权","瓶片加权","丙烯加权","LU燃油加权","对二甲苯加权","短纤加权","聚丙烯加权","甲醇加权","PTA加权","沥青加权","不锈钢加权","塑料加权","沪镍加权","多晶硅加权","菜籽粕加权","PVC加权","豆粕加权","BR橡胶加权"],"range":[6,512],"paddingInner":0,"paddingOuter":0}},"text":{"field":"文","type":"nominal"}}}
]}
],"spacing":0,"bounds":"flush"}
],"spacing":0}
]
}
